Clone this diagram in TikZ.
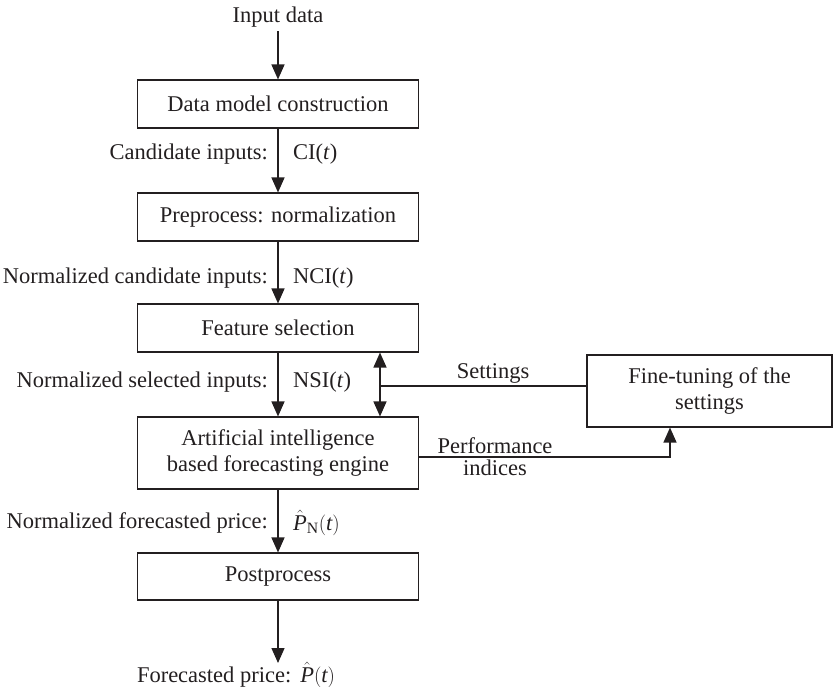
\documentclass[tikz,border=0pt]{standalone}
\usepackage{fontspec}
\setmainfont{Liberation Serif}
\usetikzlibrary{arrows.meta}
\definecolor{ink}{HTML}{231F20}
\begin{document}
\begin{tikzpicture}[x=1pt,y=-1pt,
  font=\fontsize{22.5}{26}\selectfont, text=ink,
  box/.style={draw=ink, line width=1.1pt, minimum width=281pt, minimum height=48pt, inner sep=0pt, align=center},
  arr/.style={draw=ink, line width=1.3pt, -{Triangle[width=13pt,length=15pt]}},
  darr/.style={draw=ink, line width=1.3pt, {Triangle[width=13pt,length=15pt]}-{Triangle[width=13pt,length=15pt]}},
  ln/.style={draw=ink, line width=1.1pt},
  lbl/.style={inner sep=0pt}]
\useasboundingbox (0,0) rectangle (833,686);

\node[lbl] (in) at (278,17) {Input data};
\node[box] (b1) at (278,104) {Data model construction};
\node[box] (b2) at (278,217) {Preprocess: normalization};
\node[box] (b3) at (278,328) {Feature selection};
\node[box, minimum height=72pt] (b4) at (278,453) {Artificial intelligence\\based forecasting engine};
\node[box, minimum height=47pt] (b5) at (278,576.5) {Postprocess};
\node[box, minimum width=245pt, minimum height=72pt] (fine) at (709.5,391) {Fine-tuning of the\\settings};
\node[lbl] (out) at (236,675) {Forecasted price:\hspace{0.4em}$\hat{\mathit{P}}(\mathit{t})$};

\node[lbl, anchor=east] (l1) at (268,154) {Candidate inputs:};
\node[lbl, anchor=west] (r1) at (293,154) {CI(\textit{t})};
\node[lbl, anchor=east] (l2) at (268,278) {Normalized candidate inputs:};
\node[lbl, anchor=west] (r2) at (293,278) {NCI(\textit{t})};
\node[lbl, anchor=east] (l3) at (268,382) {Normalized selected inputs:};
\node[lbl, anchor=west] (r3) at (293,382) {NSI(\textit{t})};
\node[lbl, anchor=east] (l4) at (268,523) {Normalized forecasted price:};
\node[lbl, anchor=west] (r4) at (293,523) {$\hat{\mathit{P}}_{\mathrm{N}}(\mathit{t})$};

\node[lbl] (set) at (493,373) {Settings};
\node[lbl, align=center, font=\fontsize{22.5}{22}\selectfont] (perf) at (495,457) {Performance\\indices};

\coordinate (dx) at (380,386);
\coordinate (px) at (670,457);

\draw[arr] ([yshift=-4pt]in.south) -- (b1.north);
\draw[arr] (b1) -- (b2);
\draw[arr] (b2) -- (b3);
\draw[arr] (b3) -- (b4);
\draw[arr] (b4) -- (b5);
\draw[arr] (b5.south) -- (b5.south |- 0,663);
\draw[darr] (b3.south -| dx) -- (b4.north -| dx);
\draw[ln] (fine.west |- dx) -- (dx);
\draw[arr] (b4.east |- px) -- (px) -- (fine.south -| px);
\end{tikzpicture}
\end{document}
